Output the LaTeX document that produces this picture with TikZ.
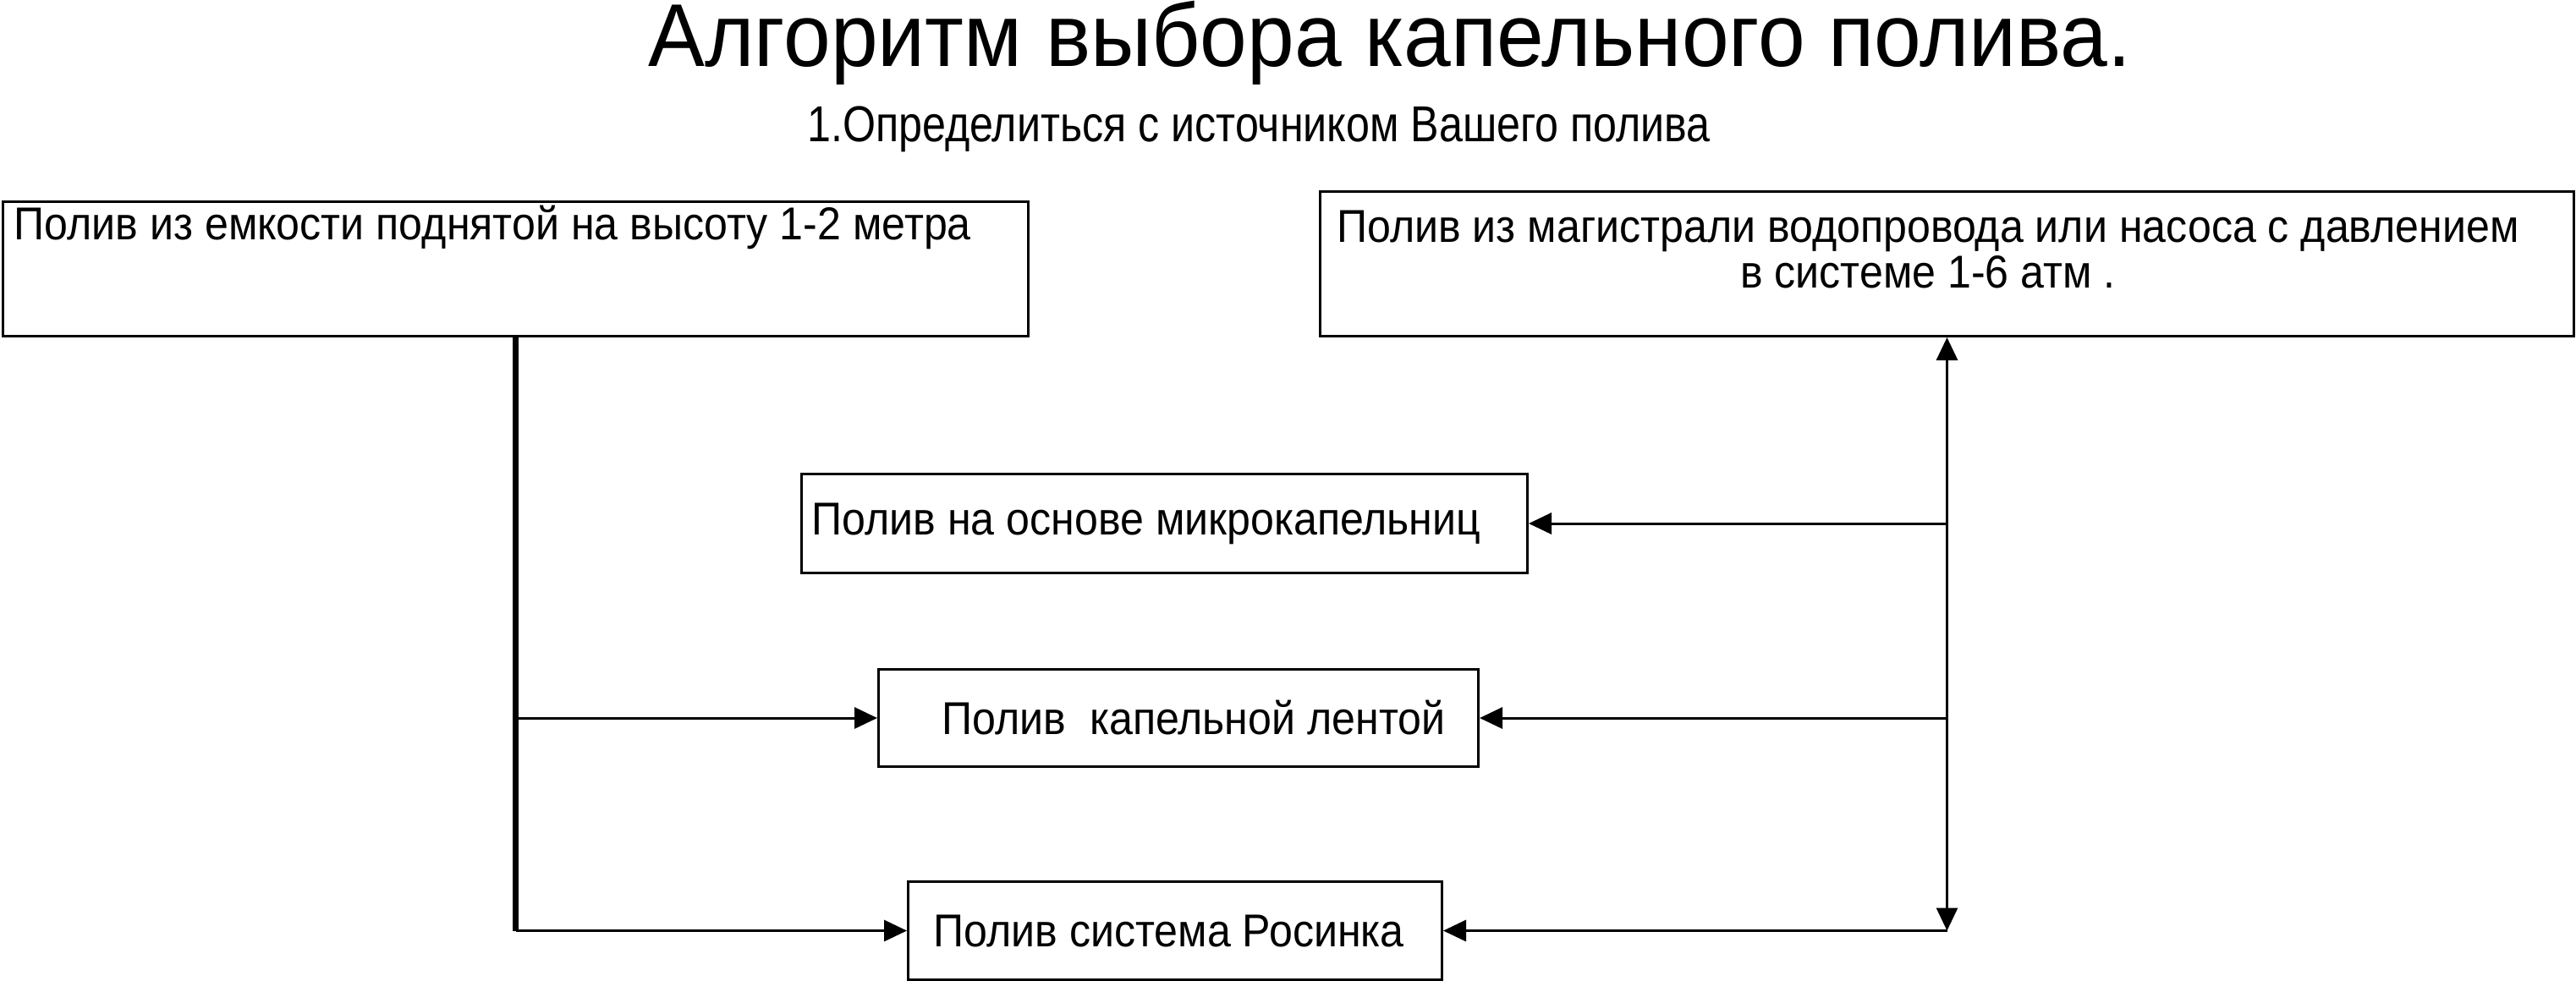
\documentclass[tikz,border=0pt]{standalone}
\usepackage{fontspec}
\setmainfont{Liberation Sans}
\newfontfamily\titlefont[FakeStretch=0.95]{Liberation Sans}
\newfontfamily\stepfont[FakeStretch=0.84]{Liberation Sans}
\newfontfamily\narrowfont[FakeStretch=0.92]{Liberation Sans}
\usetikzlibrary{positioning,calc,arrows.meta}
\tikzset{
  box/.style={draw=black,line width=0.85pt,inner sep=0pt,anchor=north west},
  txt/.style={inner sep=0pt,font=\narrowfont\fontsize{15.5}{16}\selectfont},
  tip/.style={Triangle[length=0.27cm,width=0.25cm]},
  link/.style={draw=black,line width=0.85pt,-{Triangle[length=0.27cm,width=0.25cm]}},
  trunk/.style={draw=black,line width=1.8pt},
}

\begin{document}
\begin{tikzpicture}
  \useasboundingbox (0,0) rectangle (30.45,-11.59);

  \node[font=\titlefont\fontsize{30}{34}\selectfont,anchor=base] (title) at (16.43,-0.78)
    {Алгоритм выбора капельного полива.};
  \node[font=\stepfont\fontsize{17}{20}\selectfont,anchor=base] (step) at (14.88,-1.67)
    {1.Определиться с источником Вашего полива};

  % Sources of water
  \node[box,minimum width=12.12cm,minimum height=1.59cm] (tank) at (0.02,-2.37) {};
  \node[txt,anchor=base west] (tanktxt) at (0.16,-2.83)
    {Полив из емкости поднятой на высоту 1-2 метра};

  \node[box,minimum width=14.82cm,minimum height=1.71cm] (main) at (15.59,-2.25) {};
  \node[txt,align=center,anchor=base] (maintxt) at (22.79,-3.40)
    {Полив из магистрали водопровода или насоса с давлением\\[-0.03cm] в системе 1-6 атм .};

  % Kinds of drip watering
  \node[box,minimum width=8.58cm,minimum height=1.17cm] (micro) at (9.46,-5.59) {};
  \node[txt,anchor=west] (microtxt) at ($(micro.west)+(0.13,0)$) {Полив на основе микрокапельниц};

  \node[box,minimum width=7.09cm,minimum height=1.15cm] (tape) at (10.37,-7.90) {};
  \node[txt,anchor=west] (tapetxt) at ($(tape.west)+(0.76,0)$) {Полив\ \ капельной лентой};

  \node[box,minimum width=6.31cm,minimum height=1.16cm] (dew) at (10.72,-10.41) {};
  \node[txt,anchor=west] (dewtxt) at ($(dew.west)+(0.31,0)$) {Полив система Росинка};

  % Left trunk
  \coordinate (lt) at (tank.south |- tape.west);
  \coordinate (lb) at (tank.south |- dew.west);
  \draw[trunk] (tank.south) -- (lb);
  \draw[link] (lt) -- (tape.west);
  \draw[link] (lb) -- (dew.west);

  % Right trunk
  \coordinate (rm) at (main.south |- micro.east);
  \coordinate (rt) at (main.south |- tape.east);
  \coordinate (rb) at (main.south |- dew.east);
  \draw[link,{Triangle[length=0.27cm,width=0.25cm]}-{Triangle[length=0.27cm,width=0.25cm]}] (main.south) -- (rb);
  \draw[link] (rm) -- (micro.east);
  \draw[link] (rt) -- (tape.east);
  \draw[link] (rb) -- (dew.east);
\end{tikzpicture}
\end{document}
